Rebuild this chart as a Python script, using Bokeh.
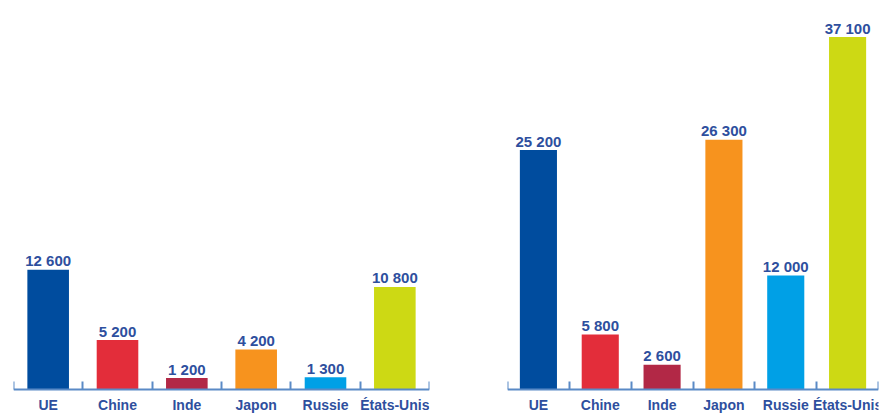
from bokeh.plotting import figure
from bokeh.layouts import row
from bokeh.models import LinearAxis, FixedTicker, Range1d, ColumnDataSource
from bokeh.core.properties import value
from bokeh.embed import file_html
from bokeh.resources import INLINE

categories = ["UE", "Chine", "Inde", "Japon", "Russie", "États-Unis"]
values_left = [12600, 5200, 1200, 4200, 1300, 10800]
values_right = [25200, 5800, 2600, 26300, 12000, 37100]
colors = ["#004C9E", "#E32D3A", "#B22846", "#F7931E", "#00A0E6", "#CDD914"]

LABEL_COLOR = "#2E4F9E"
AXIS_COLOR = "#5A8AC6"
FONT = "Liberation Sans"
PX_PER_UNIT = 9.5 / 1000.0
HEIGHT = 414
BASE_FROM_TOP = 389
BELOW = HEIGHT - BASE_FROM_TOP


def make_panel(vals, width, left_border, right_border):
    n = len(categories)
    centers = [i + 0.5 for i in range(n)]
    bounds = [float(i) for i in range(n + 1)]
    p = figure(width=width, height=HEIGHT, output_backend="svg", toolbar_location=None,
               x_axis_location=None, y_axis_location=None,
               x_range=Range1d(0, n),
               y_range=Range1d(-BELOW / PX_PER_UNIT, BASE_FROM_TOP / PX_PER_UNIT),
               min_border_left=left_border, min_border_right=right_border,
               min_border_top=0, min_border_bottom=0)
    p.outline_line_color = None
    p.grid.visible = False
    p.background_fill_color = "white"
    p.border_fill_color = "white"

    src = ColumnDataSource(dict(
        x=centers, top=vals, color=colors,
        label=[f"{v:,}".replace(",", " ") for v in vals],
    ))
    p.vbar(x="x", top="top", bottom=0, width=0.6, fill_color="color",
           line_color=None, source=src)
    p.text(x="x", y="top", text="label", source=src, text_align="center",
           text_baseline="alphabetic", y_offset=-9,
           text_font=value(FONT), text_font_style="bold",
           text_font_size="15px", text_color=LABEL_COLOR)

    axis = LinearAxis(fixed_location=0,
                      ticker=FixedTicker(ticks=centers, minor_ticks=bounds))
    axis.major_label_overrides = {c: cat for c, cat in zip(centers, categories)}
    axis.major_tick_line_color = None
    axis.major_tick_in = 0
    axis.major_tick_out = 0
    axis.minor_tick_in = 8
    axis.minor_tick_out = 0
    axis.minor_tick_line_color = AXIS_COLOR
    axis.minor_tick_line_width = 2
    axis.axis_line_color = AXIS_COLOR
    axis.axis_line_width = 2
    axis.major_label_standoff = 7
    axis.major_label_text_font = FONT
    axis.major_label_text_font_style = "bold"
    axis.major_label_text_font_size = "14px"
    axis.major_label_text_color = LABEL_COLOR
    p.add_layout(axis, "below")
    return p


p_left = make_panel(values_left, 468, 13, 39)
p_right = make_panel(values_right, 416, 39, 6)
p = row(p_left, p_right, spacing=0)

open("out.html", "w").write(file_html(p, INLINE))
